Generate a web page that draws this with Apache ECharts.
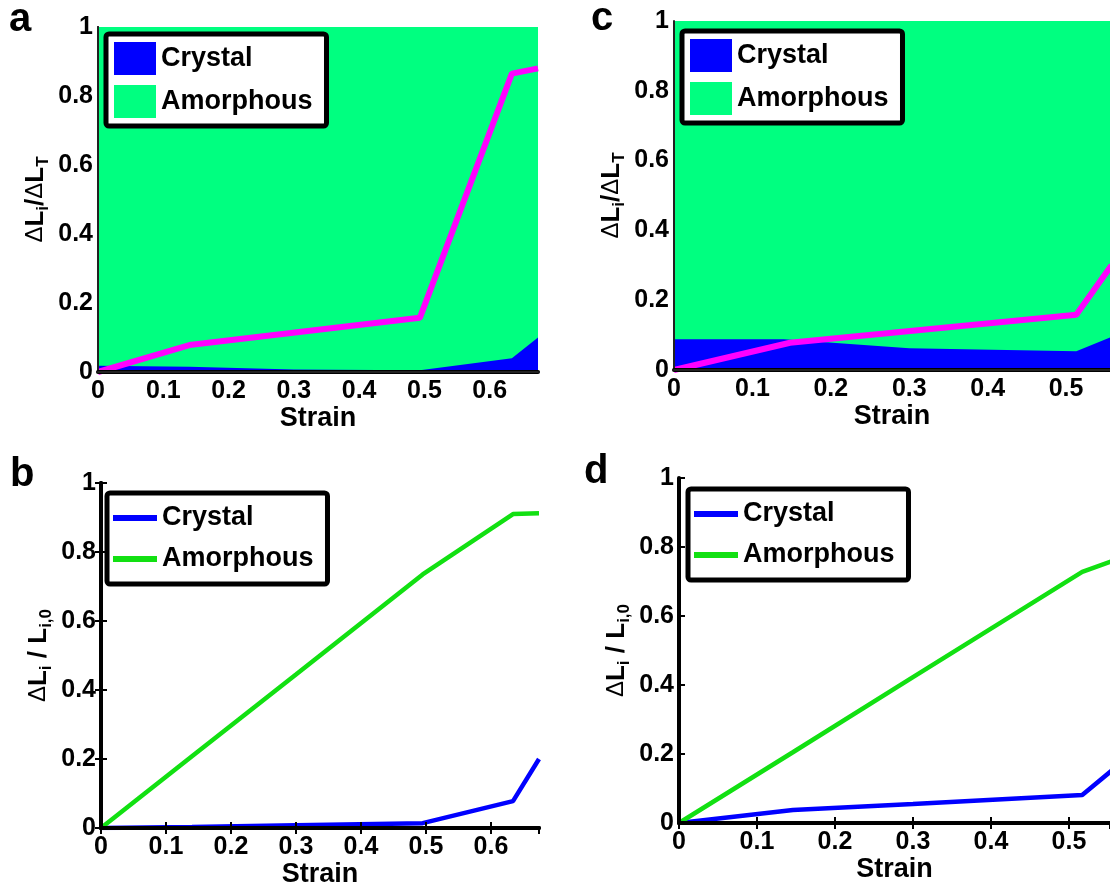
<!DOCTYPE html>
<html>
<head>
<meta charset="utf-8">
<script src="https://cdn.jsdelivr.net/npm/echarts@6/dist/echarts.min.js"></script>
<style>
html,body{margin:0;padding:0;background:#fff;}
#chart{width:1110px;height:889px;}
</style>
</head>
<body>
<div id="chart"></div>
<script>
// ---------- data ----------
// Panel a: fraction of total deformation (stacked areas) + magenta curve
const strainA      = [0, 0.14, 0.30, 0.493, 0.634, 0.674];
const crystalA     = [0.018, 0.015, 0.007, 0.005, 0.040, 0.100];
const amorphousA   = [0.982, 0.985, 0.993, 0.995, 0.960, 0.900];
const magStrainA   = [0, 0.14, 0.493, 0.634, 0.674];
const magentaA     = [0, 0.078, 0.157, 0.865, 0.880];

// Panel c
const strainC      = [0, 0.14, 0.30, 0.513, 0.558];
const crystalC     = [0.088, 0.088, 0.062, 0.054, 0.095];
const amorphousC   = [0.912, 0.912, 0.938, 0.946, 0.905];
const magStrainC   = [0, 0.148, 0.513, 0.558];
const magentaC     = [0, 0.078, 0.158, 0.300];

// Panel b: relative deformation of each phase
const strainB      = [0, 0.14, 0.30, 0.495, 0.634, 0.674];
const crystalB     = [0, 0.003, 0.008, 0.014, 0.078, 0.200];
const amorphousB   = [0, 0.208, 0.445, 0.735, 0.910, 0.912];

// Panel d
const strainD      = [0, 0.146, 0.30, 0.517, 0.558];
const crystalD     = [0, 0.038, 0.055, 0.081, 0.158];
const amorphousD   = [0, 0.205, 0.423, 0.728, 0.761];

const yTicks = [0, 0.2, 0.4, 0.6, 0.8, 1];
const legendNames = ['Crystal', 'Amorphous'];

// ---------- styling ----------
const FONT = '"Liberation Sans", Arial, Helvetica, sans-serif';
const BLUE = '#0000ff';
const SPRING = '#00ff80';
const LIME = '#12e012';
const MAGENTA = '#ff00ff';

const zip = (xs, ys) => xs.map((x, i) => [x, ys[i]]);
const cumul = (xs, a, b) => xs.map((x, i) => [x, a[i] + b[i]]);

const grids = [
  {left: 98,  top: 27,  width: 440, height: 345},   // a
  {left: 674, top: 21,  width: 436, height: 349},   // c (cut by the right edge)
  {left: 101, top: 483, width: 438, height: 345},   // b
  {left: 679, top: 478, width: 431, height: 345}    // d (cut by the right edge)
];
const xMax = [0.674, 0.556, 0.674, 0.5526];
const filled = [true, true, false, false];
const cut = [false, true, false, true];

const rich = {
  d: {fontFamily: FONT, fontSize: 24, fontWeight: 'normal', color: '#000'},
  L: {fontFamily: FONT, fontSize: 26, fontWeight: 'bold', color: '#000'},
  n: {fontFamily: FONT, fontSize: 26, fontWeight: 'bold', color: '#000'},
  s: {fontFamily: FONT, fontSize: 17, fontWeight: 'bold', color: '#000', padding: [16, 0, 0, 0]}
};
const nameA = '{d|Δ}{L|L}{s|i}{n|/}{d|Δ}{L|L}{s|T}';
const nameB = '{d|Δ}{L|L}{s|i}{n| / }{L|L}{s|i,0}';

const xAxes = [], yAxes = [];
grids.forEach((g, gi) => {
  const isF = filled[gi];
  const edgeW = isF ? 2 : 4;
  const edgeC = isF ? '#222' : '#000';
  const tick = {show: !isF, inside: true, length: 6, lineStyle: {color: '#000', width: 2}};
  const lbl = {fontFamily: FONT, fontSize: 25, fontWeight: 'bold', color: '#000'};
  xAxes.push({
    gridIndex: gi, type: 'value', position: 'bottom', min: 0, max: xMax[gi], interval: 0.1,
    axisLine: {show: true, lineStyle: {color: '#000', width: 4}},
    axisTick: tick,
    axisLabel: Object.assign({margin: 7, showMaxLabel: false}, lbl),
    splitLine: {show: false},
    name: 'Strain', nameLocation: 'middle', nameGap: 33,
    nameTextStyle: {fontFamily: FONT, fontSize: 27, fontWeight: 'bold', color: '#000'},
    z: 10
  });
  xAxes.push({
    gridIndex: gi, type: 'value', position: 'top', min: 0, max: xMax[gi], interval: 0.1,
    axisLine: {show: true, lineStyle: {color: edgeC, width: edgeW}},
    axisTick: Object.assign({}, tick, {show: !isF}), axisLabel: {show: false}, splitLine: {show: false}, z: 10
  });
  yAxes.push({
    gridIndex: gi, type: 'value', position: 'left', min: yTicks[0], max: yTicks[yTicks.length - 1], interval: 0.2,
    axisLine: {show: true, lineStyle: {color: edgeC, width: edgeW}},
    axisTick: tick,
    axisLabel: Object.assign({margin: 5}, lbl),
    splitLine: {show: false},
    name: gi < 2 ? nameA : nameB, nameLocation: 'middle', nameRotate: 90, nameGap: 46,
    nameTextStyle: {rich: rich},
    z: 10
  });
  yAxes.push({
    gridIndex: gi, type: 'value', position: 'right', min: yTicks[0], max: yTicks[yTicks.length - 1], interval: 0.2,
    show: !cut[gi],
    axisLine: {show: true, lineStyle: {color: edgeC, width: edgeW}},
    axisTick: tick, axisLabel: {show: false}, splitLine: {show: false}, z: 10
  });
});

function areaPair(gi, xs, cr, am) {
  const common = {type: 'line', xAxisIndex: gi * 2, yAxisIndex: gi * 2,
    symbol: 'none', lineStyle: {width: 0}, silent: true, emphasis: {disabled: true}};
  return [
    // amorphous band sits on top of the crystal band: fill up to crystal+amorphous, crystal painted over it
    Object.assign({name: 'Amorphous', data: cumul(xs, cr, am), color: SPRING, areaStyle: {color: SPRING, opacity: 1}, z: 2}, common),
    Object.assign({name: 'Crystal', data: zip(xs, cr), color: BLUE, areaStyle: {color: BLUE, opacity: 1}, z: 3}, common)
  ];
}
function magLine(gi, xs, ys) {
  return {type: 'line', name: 'ratio' + gi, xAxisIndex: gi * 2, yAxisIndex: gi * 2, symbol: 'none',
    data: zip(xs, ys), lineStyle: {color: MAGENTA, width: 6}, color: MAGENTA, silent: true, z: 4};
}
function lines(gi, xs, cr, am) {
  const common = {type: 'line', xAxisIndex: gi * 2, yAxisIndex: gi * 2, symbol: 'none', silent: true, emphasis: {disabled: true}};
  return [
    Object.assign({name: 'Crystal', data: zip(xs, cr), color: BLUE, lineStyle: {color: BLUE, width: 4.5}}, common),
    Object.assign({name: 'Amorphous', data: zip(xs, am), color: LIME, lineStyle: {color: LIME, width: 4.5}}, common)
  ];
}

const series = [].concat(
  areaPair(0, strainA, crystalA, amorphousA), [magLine(0, magStrainA, magentaA)],
  areaPair(1, strainC, crystalC, amorphousC), [magLine(1, magStrainC, magentaC)],
  lines(2, strainB, crystalB, amorphousB),
  lines(3, strainD, crystalD, amorphousD)
);

function legendBox(left, top, areaIcons) {
  const base = {
    left: left, top: top, orient: 'vertical', selectedMode: false,
    borderColor: '#000', borderWidth: 5, borderRadius: 3, backgroundColor: '#fff',
    textStyle: {fontFamily: FONT, fontSize: 27, fontWeight: 'bold', color: '#000'}
  };
  if (areaIcons) {
    return Object.assign(base, {
      itemWidth: 42, itemHeight: 33, itemGap: 10, padding: [8, 14, 8, 8],
      data: [
        {name: legendNames[0], icon: 'rect', itemStyle: {color: BLUE}},
        {name: legendNames[1], icon: 'rect', itemStyle: {color: SPRING}}
      ]
    });
  }
  return Object.assign(base, {
    itemWidth: 44, itemHeight: 6, itemGap: 11, padding: [10, 14, 10, 6],
    textStyle: Object.assign({}, base.textStyle, {lineHeight: 30}),
    data: [
      {name: legendNames[0], icon: 'rect', itemStyle: {color: BLUE}},
      {name: legendNames[1], icon: 'rect', itemStyle: {color: LIME}}
    ]
  });
}

const letter = (t, x, y) => ({type: 'text', left: x, top: y, z: 20,
  style: {text: t, fontFamily: FONT, fontSize: 40, fontWeight: 'bold', fill: '#000'}});

const option = {
  animation: false,
  backgroundColor: '#fff',
  grid: grids,
  xAxis: xAxes,
  yAxis: yAxes,
  legend: [
    legendBox(106, 34, true),
    legendBox(682, 31, true),
    legendBox(107, 493, false),
    legendBox(688, 489, false)
  ],
  graphic: [
    letter('a', 9, 0),
    letter('c', 591, -1),
    letter('b', 10, 455),
    letter('d', 584, 452)
  ],
  series: series
};

const chart = echarts.init(document.getElementById('chart'), null, {renderer: 'canvas'});
chart.setOption(option);
</script>
</body>
</html>
